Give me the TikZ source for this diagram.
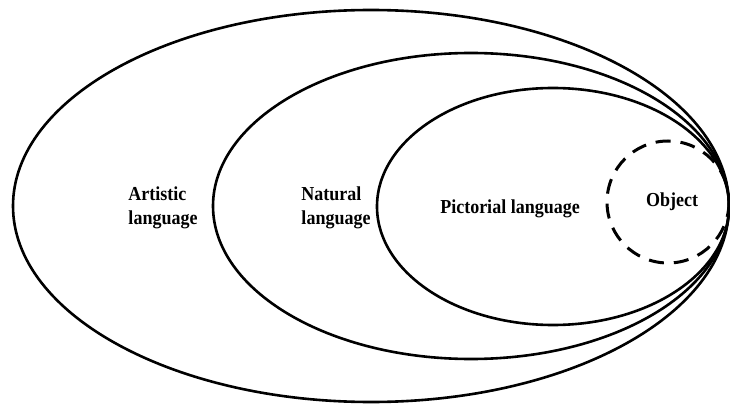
\documentclass[tikz,border=0pt]{standalone}
\usepackage{fontspec}
\setmainfont{Liberation Serif}
\begin{document}
\begin{tikzpicture}[x=1pt,y=-1pt,
  ring/.style={draw=black, line width=2.6pt},
  lbl/.style={font=\bfseries\fontsize{18}{22}\selectfont, align=left, inner sep=0pt, yscale=1.1}]
\useasboundingbox (0,0) rectangle (730,406);
\draw[ring] (371,206) ellipse [x radius=358, y radius=196];
\draw[ring] (471,206) ellipse [x radius=258, y radius=153];
\draw[ring] (553,206.5) ellipse [x radius=176, y radius=118.5];
\draw[line width=3pt, dash pattern=on 15pt off 10pt] (668,202) circle [radius=61];
\node[lbl] (art) at (163,208) {Artistic\\language};
\node[lbl] (nat) at (336,208) {Natural\\language};
\node[lbl] (pic) at (510,209) {Pictorial language};
\node[lbl] (obj) at (672,202) {Object};
\end{tikzpicture}
\end{document}
